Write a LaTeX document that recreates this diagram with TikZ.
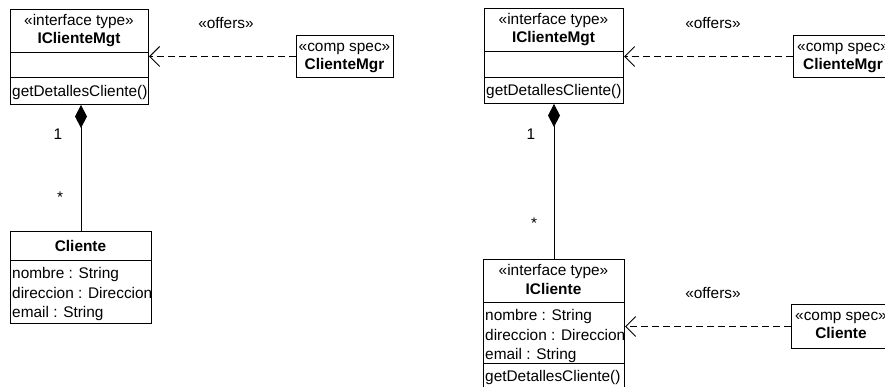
\documentclass[tikz,border=0pt]{standalone}
\usepackage{fontspec}
\setmainfont{Liberation Sans}
\usetikzlibrary{arrows.meta}
\begin{document}
\begin{tikzpicture}[x=1pt,y=-1pt,
  font=\fontsize{15.4}{19.5}\selectfont,
  umlbox/.style={draw, line width=1pt, inner sep=0pt, anchor=north west},
  txt/.style={inner sep=0pt, anchor=base},
  attr/.style={inner sep=0pt, anchor=base west},
  sepline/.style={line width=1pt},
  dep/.style={line width=1pt, dash pattern=on 7pt off 4pt,
    -{Straight Barb[length=10pt,width=20pt,line width=1pt]}},
  compo/.style={line width=1pt, -{Diamond[length=23pt,width=12pt]}}]
\useasboundingbox (0,0) rectangle (885,387);
\clip (0,0) rectangle (885,387);

% ---------------- left diagram ----------------
\node[umlbox, minimum width=138pt, minimum height=95pt] (icmL) at (10,9) {};
\node[txt] (icmLs) at (79,25.5) {«interface type»};
\node[txt] (icmLn) at (79,43.5) {\bfseries IClienteMgt};
\draw[sepline] (10,53) -- (148,53);
\draw[sepline] (10,78) -- (148,78);
\node[attr] (icmLo) at (12,96.5) {getDetallesCliente()};

\node[umlbox, minimum width=97pt, minimum height=42pt] (cmL) at (296,35) {};
\node[txt] (cmLs) at (344.5,51.5) {«comp spec»};
\node[txt] (cmLn) at (344.5,69.5) {\bfseries ClienteMgr};
\node[txt] (offL) at (226,28.5) {«offers»};
\draw[dep] (cmL.west) -- (cmL.west -| icmL.east);

\node[umlbox, minimum width=141pt, minimum height=92pt] (clL) at (10,231) {};
\node[txt] (clLn) at (80.5,251.5) {\bfseries Cliente};
\draw[sepline] (10,260) -- (151,260);
\node[attr] (clLa1) at (12,278.5) {nombre : String};
\node[attr] (clLa2) at (12,298) {direccion : Direccion};
\node[attr] (clLa3) at (12,317.5) {email : String};

\draw[compo] (clL.north) -- (clL.north |- icmL.south);
\node[txt] (oneL) at (58,139.5) {1};
\node[txt] (manyL) at (60,203) {*};

% ---------------- right diagram ----------------
\node[umlbox, minimum width=139pt, minimum height=95pt] (icmR) at (484,8) {};
\node[txt] (icmRs) at (553.5,24.5) {«interface type»};
\node[txt] (icmRn) at (553.5,42.5) {\bfseries IClienteMgt};
\draw[sepline] (484,52) -- (623,52);
\draw[sepline] (484,78) -- (623,78);
\node[attr] (icmRo) at (486,95.5) {getDetallesCliente()};

\node[umlbox, minimum width=100pt, minimum height=42pt] (cmR) at (793,35) {};
\node[txt] (cmRs) at (843,51.5) {«comp spec»};
\node[txt] (cmRn) at (843,69.5) {\bfseries ClienteMgr};
\node[txt] (offR1) at (713,28.5) {«offers»};
\draw[dep] (cmR.west) -- (cmR.west -| icmR.east);

\node[umlbox, minimum width=141pt, minimum height=130pt] (iclR) at (483,259) {};
\node[txt] (iclRs) at (553.5,275.5) {«interface type»};
\node[txt] (iclRn) at (553.5,294.5) {\bfseries ICliente};
\draw[sepline] (483,302) -- (624,302);
\node[attr] (iclRa1) at (485,320.5) {nombre : String};
\node[attr] (iclRa2) at (485,340) {direccion : Direccion};
\node[attr] (iclRa3) at (485,359.5) {email : String};
\draw[sepline] (483,363) -- (624,363);
\node[attr] (iclRo) at (485,381.5) {getDetallesCliente()};

\node[umlbox, minimum width=100pt, minimum height=44pt] (csR) at (791,304) {};
\node[txt] (csRs) at (841,320.5) {«comp spec»};
\node[txt] (csRn) at (841,338.5) {\bfseries Cliente};
\node[txt] (offR2) at (713,298.5) {«offers»};
\draw[dep] (csR.west) -- (csR.west -| iclR.east);

\draw[compo] (iclR.north) -- (iclR.north |- icmR.south);
\node[txt] (oneR) at (531,139.5) {1};
\node[txt] (manyR) at (534,229) {*};
\end{tikzpicture}
\end{document}
